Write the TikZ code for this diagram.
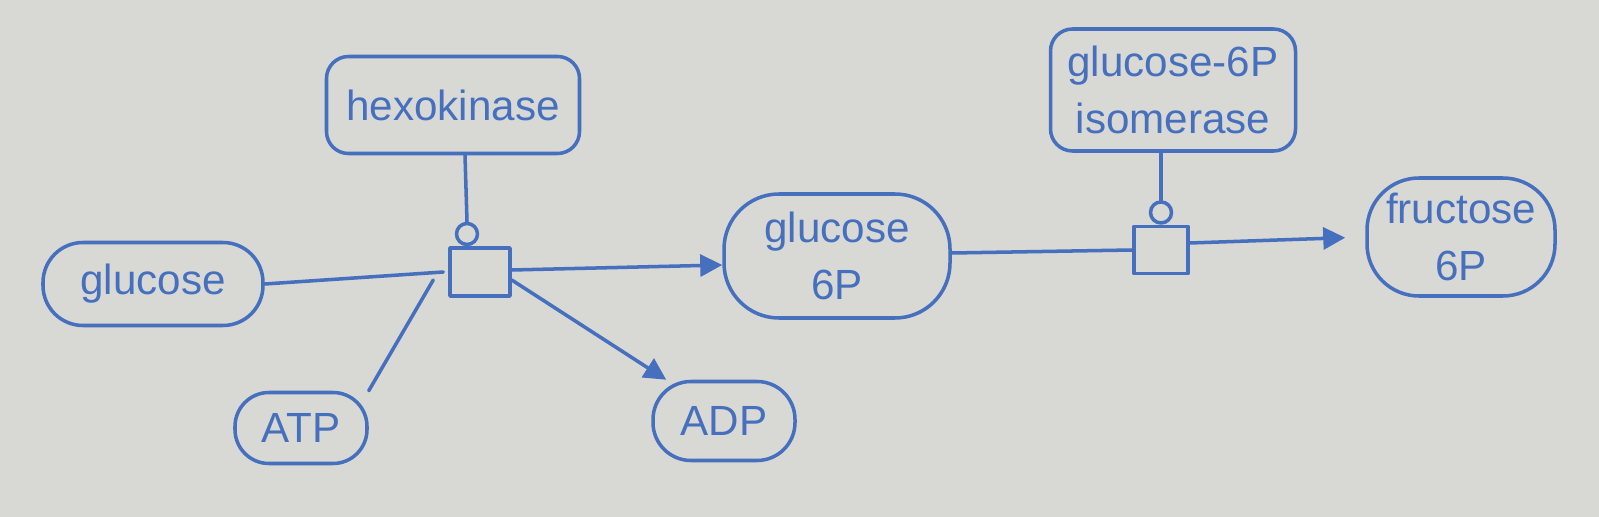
\documentclass[tikz,border=0pt]{standalone}
\usepackage{fontspec}
\setmainfont{Liberation Sans}
\usepackage{tikz}
\usetikzlibrary{arrows.meta}
\definecolor{paper}{HTML}{D8D8D5}
\definecolor{ink}{HTML}{4670BE}
\tikzset{
  base/.style={draw=ink, line width=1pt, line cap=round, line join=round},
  spec/.style={base, rectangle, text=ink, font=\fontsize{12}{16}\selectfont, align=center, inner sep=0pt},
  enz/.style={spec, rounded corners=0.22cm},
  proc/.style={base, rectangle, inner sep=0pt},
  mod/.style={base, circle, inner sep=0pt, minimum size=0.21cm},
  prod/.style={base, -{Triangle[length=0.22cm,width=0.22cm,fill=ink]}},
}

\begin{document}
\begin{tikzpicture}
  \fill[paper] (0,0) rectangle (15.99,-5.17);
  \useasboundingbox (0,0) rectangle (15.99,-5.17);
  % species
  \node[spec, rounded corners=0.4cm, minimum width=2.2cm, minimum height=0.83cm] (glc) at (1.53,-2.84) {glucose};
  \node[spec, rounded corners=0.34cm, minimum width=1.32cm, minimum height=0.71cm] (atp) at (3.01,-4.28) {ATP};
  \node[spec, rounded corners=0.55cm, minimum width=2.26cm, minimum height=1.24cm] (g6p) at (8.37,-2.56) {glucose\\6P};
  \node[spec, rounded corners=0.38cm, minimum width=1.42cm, minimum height=0.79cm] (adp) at (7.24,-4.21) {ADP};
  \node[spec, rounded corners=0.52cm, minimum width=1.88cm, minimum height=1.18cm] (f6p) at (14.61,-2.37) {fructose\\6P};
  % enzymes
  \node[enz, minimum width=2.53cm, minimum height=0.97cm] (hk) at (4.53,-1.05) {hexokinase};
  \node[enz, minimum width=2.45cm, minimum height=1.22cm] (gpi) at (11.73,-0.90) {glucose-6P\\isomerase};
  % processes
  \node[proc, minimum width=0.6cm, minimum height=0.48cm] (p1) at (4.80,-2.72) {};
  \node[proc, minimum width=0.54cm, minimum height=0.47cm] (p2) at (11.61,-2.50) {};
  \node[mod, anchor=south] (c1) at ([xshift=-0.13cm]p1.north) {};
  \node[mod, anchor=south] (c2) at ([xshift=-0.0cm]p2.north) {};
  % arcs
  \draw[base] (glc.east) -- ([xshift=-0.05cm]p1.west);
  \draw[base] (atp.north east) -- ([xshift=-0.15cm,yshift=-0.08cm]p1.west);
  \draw[prod] ([yshift=0.02cm]p1.east) -- ([yshift=-0.09cm]g6p.west);
  \draw[prod] ([yshift=-0.08cm]p1.east) -- ([xshift=0.15cm]adp.north west);
  \draw[base] ([xshift=0.12cm]hk.south) -- (c1.north);
  \draw[base] ([yshift=0.03cm]g6p.east) -- (p2.west);
  \draw[prod, shorten >=0.2cm] ([yshift=0.07cm]p2.east) -- (f6p.west);
  \draw[base] ([xshift=-0.12cm]gpi.south) -- (c2.north);
\end{tikzpicture}
\end{document}
